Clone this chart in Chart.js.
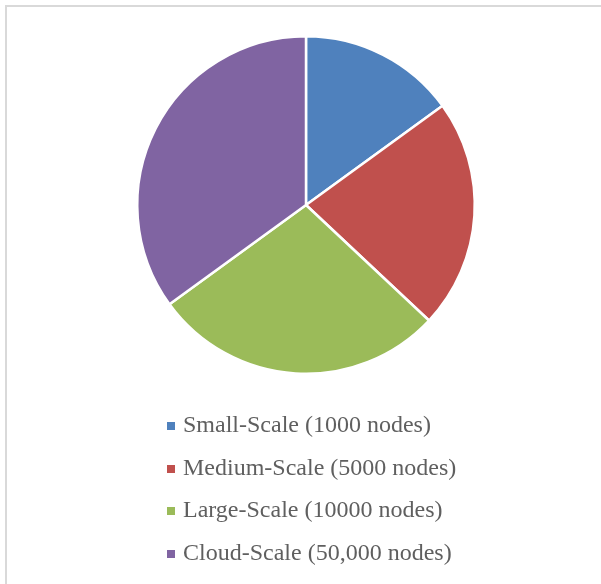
<!DOCTYPE html>
<html>
<head>
<meta charset="utf-8">
<script src="https://cdn.jsdelivr.net/npm/chart.js@4/dist/chart.umd.min.js"></script>
<style>
  html, body { margin: 0; padding: 0; background: #fff; }
  #wrap { position: relative; width: 601px; height: 584px; }
  #frame { position: absolute; left: 5px; top: 5px; right: 0; bottom: 0;
           border-top: 2px solid #d9d9d9; border-left: 2px solid #d9d9d9; }
  canvas { position: absolute; left: 0; top: 0; }
</style>
</head>
<body>
<div id="wrap">
  <div id="frame"></div>
  <canvas id="c" width="601" height="584"></canvas>
</div>
<script>
// Network scale categories and their share of the total
const categories = [
  'Small-Scale (1000 nodes)',
  'Medium-Scale (5000 nodes)',
  'Large-Scale (10000 nodes)',
  'Cloud-Scale (50,000 nodes)'
];
const shares = [15, 22, 28, 35];
const sliceColors = ['#4F81BD', '#C0504D', '#9BBB59', '#8064A2'];

// Vertical list legend drawn under the pie, one entry per row
const listLegend = {
  id: 'listLegend',
  afterDraw(chart) {
    const ctx = chart.ctx;
    const labels = chart.data.labels;
    const colors = chart.data.datasets[0].backgroundColor;
    const top = chart.chartArea.bottom + 51;
    ctx.save();
    ctx.font = '24px "Liberation Serif", "Times New Roman", serif';
    ctx.textBaseline = 'middle';
    labels.forEach((lab, i) => {
      const y = top + i * 42.5;
      ctx.fillStyle = colors[i];
      ctx.fillRect(167, Math.round(y) - 4, 8, 8);
      ctx.fillStyle = '#5f5f5f';
      ctx.fillText(lab, 183, y);
    });
    ctx.restore();
  }
};

new Chart(document.getElementById('c'), {
  type: 'pie',
  data: {
    labels: categories,
    datasets: [{
      data: shares,
      backgroundColor: sliceColors,
      borderColor: '#ffffff',
      borderWidth: 2.5,
      hoverBorderWidth: 2.5,
      hoverOffset: 0
    }]
  },
  options: {
    responsive: false,
    animation: false,
    events: [],
    layout: { padding: { left: 11, right: 0, top: 35, bottom: 209 } },
    plugins: {
      legend: { display: false },
      tooltip: { enabled: false }
    }
  },
  plugins: [listLegend]
});
</script>
</body>
</html>
